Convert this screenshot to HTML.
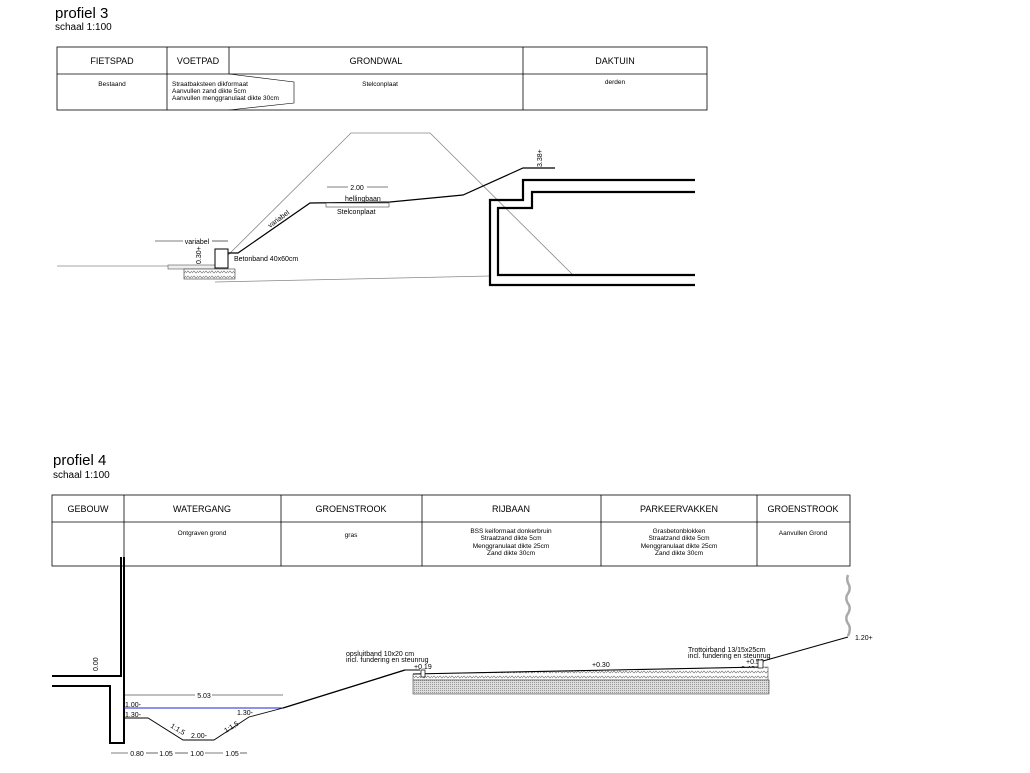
<!DOCTYPE html>
<html><head><meta charset="utf-8"><style>
html,body{margin:0;padding:0;background:#fff;}
svg{display:block;font-family:"Liberation Sans",sans-serif;}
</style></head><body>
<svg width="1030" height="773" viewBox="0 0 1030 773" xmlns="http://www.w3.org/2000/svg">
<defs>
<pattern id="hx" width="6" height="5" patternUnits="userSpaceOnUse"><rect width="6" height="5" fill="#fff"/><path d="M0 3 L2 1 L4 3 L6 1" stroke="#777" stroke-width="0.7" fill="none"/></pattern>
<pattern id="dt" width="2" height="2" patternUnits="userSpaceOnUse"><rect width="2" height="2" fill="#ddd"/><rect width="1" height="1" fill="#999"/></pattern>
</defs>
<text x="55" y="18" font-size="15">profiel 3</text>
<text x="55" y="30" font-size="10">schaal 1:100</text>
<g stroke="#000" fill="none" stroke-width="0.8">
<rect x="57" y="47" width="650" height="63"/>
<line x1="57" y1="74" x2="707" y2="74"/>
<line x1="167" y1="47" x2="167" y2="110"/>
<line x1="229" y1="47" x2="229" y2="74"/>
<line x1="523" y1="47" x2="523" y2="110"/>
<path d="M229 74 L294 82 L294 103 L229 110" stroke-width="0.6"/>
</g>
<g font-size="9" text-anchor="middle">
<text x="112" y="64">FIETSPAD</text><text x="198" y="64">VOETPAD</text>
<text x="376" y="64">GRONDWAL</text><text x="615" y="64">DAKTUIN</text>
</g>
<g font-size="6.5">
<text x="112" y="86" text-anchor="middle">Bestaand</text>
<text x="172" y="86">Straatbaksteen dikformaat</text>
<text x="172" y="93">Aanvullen zand dikte 5cm</text>
<text x="172" y="100">Aanvullen menggranulaat dikte 30cm</text>
<text x="380" y="86" text-anchor="middle">Stelconplaat</text>
<text x="615" y="84" text-anchor="middle">derden</text>
</g>
<g stroke="#888" fill="none" stroke-width="0.8">
<path d="M215 268 L351 133 L430 133 L573 275"/>
<path d="M215 282 L490 276"/>
<path d="M57 266 L185 266"/>
</g>
<rect x="168" y="265" width="47" height="4" fill="#eee" stroke="#555" stroke-width="0.6"/>
<rect x="184" y="269" width="51" height="10" fill="url(#hx)" stroke="#333" stroke-width="0.6"/>
<rect x="215" y="249" width="13" height="19" fill="#fff" stroke="#000" stroke-width="1"/>
<path d="M228 253 L238 253 L310 203 L390 202 L463 195 L523 168 L555 168" stroke="#000" fill="none" stroke-width="1.2"/>
<rect x="326" y="203" width="63" height="4" fill="#fff" stroke="#444" stroke-width="0.6"/>
<g stroke="#000" stroke-width="0.6">
<line x1="327" y1="187" x2="348" y2="187"/><line x1="367" y1="187" x2="388" y2="187"/>
<line x1="155" y1="241" x2="183" y2="241"/><line x1="212" y1="241" x2="228" y2="241"/>
</g>
<g font-size="7">
<text x="357" y="190" text-anchor="middle">2.00</text>
<text x="345" y="201">hellingbaan</text>
<text x="337" y="214">Stelconplaat</text>
<text x="197" y="244" text-anchor="middle">variabel</text>
<text x="234" y="261">Betonband 40x60cm</text>
<text transform="translate(270,228) rotate(-36)">variabel</text>
<text transform="translate(201,264) rotate(-90)">0.30+</text>
<text transform="translate(542,167) rotate(-90)">3.38+</text>
</g>
<g stroke="#000" fill="none" stroke-width="2.2">
<path d="M695 180 L523 180 L523 200 L490 200 L490 285 L695 285"/>
<path d="M695 192 L532 192 L532 208 L498 208 L498 275 L695 275"/>
</g>
<text x="53" y="465" font-size="15">profiel 4</text>
<text x="53" y="478" font-size="10">schaal 1:100</text>
<g stroke="#000" fill="none" stroke-width="0.8">
<rect x="52" y="495" width="798" height="71"/>
<line x1="52" y1="522" x2="850" y2="522"/>
<line x1="124" y1="495" x2="124" y2="566"/>
<line x1="281" y1="495" x2="281" y2="566"/>
<line x1="422" y1="495" x2="422" y2="566"/>
<line x1="601" y1="495" x2="601" y2="566"/>
<line x1="757" y1="495" x2="757" y2="566"/>
</g>
<g font-size="9" text-anchor="middle">
<text x="88" y="512">GEBOUW</text><text x="202" y="512">WATERGANG</text>
<text x="351" y="512">GROENSTROOK</text><text x="511" y="512">RIJBAAN</text>
<text x="679" y="512">PARKEERVAKKEN</text><text x="803" y="512">GROENSTROOK</text>
</g>
<g font-size="6.5" text-anchor="middle">
<text x="202" y="535">Ontgraven grond</text>
<text x="351" y="537">gras</text>
<text x="511" y="533">BSS keiformaat donkerbruin</text>
<text x="511" y="540">Straatzand dikte 5cm</text>
<text x="511" y="548">Menggranulaat dikte 25cm</text>
<text x="511" y="555">Zand dikte 30cm</text>
<text x="679" y="533">Grasbetonblokken</text>
<text x="679" y="540">Straatzand dikte 5cm</text>
<text x="679" y="548">Menggranulaat dikte 25cm</text>
<text x="679" y="555">Zand dikte 30cm</text>
<text x="803" y="535">Aanvullen Grond</text>
</g>
<g stroke="#000" fill="none" stroke-width="2">
<path d="M52 676 L121 676 L121 557"/>
<path d="M52 686 L110 686 L110 743 L124 743 L124 557"/>
</g>
<line x1="124" y1="708" x2="283" y2="708" stroke="#22d" stroke-width="1"/>
<path d="M124 718 L148 718 L183 740 L214 740 L249 717 L283 708 L405 670 L420 670" stroke="#000" fill="none" stroke-width="0.9"/>
<path d="M283 708 L405 670" stroke="#000" stroke-width="1.3" fill="none"/>
<g stroke="#000" stroke-width="0.6">
<line x1="124" y1="695" x2="195" y2="695"/><line x1="212" y1="695" x2="283" y2="695"/>
<line x1="111" y1="753" x2="128" y2="753"/><line x1="146" y1="753" x2="158" y2="753"/>
<line x1="175" y1="753" x2="188" y2="753"/><line x1="205" y1="753" x2="223" y2="753"/><line x1="240" y1="753" x2="247" y2="753"/>
</g>
<g font-size="7">
<text x="204" y="698" text-anchor="middle">5.03</text>
<text x="125" y="707">1.00-</text>
<text x="125" y="717">1.30-</text>
<text x="237" y="715">1.30-</text>
<text x="191" y="738">2.00-</text>
<text transform="translate(170,727) rotate(32)">1:1,5</text>
<text transform="translate(226,733) rotate(-32)">1:1,5</text>
<text x="137" y="756" text-anchor="middle">0.80</text>
<text x="166" y="756" text-anchor="middle">1.05</text>
<text x="197" y="756" text-anchor="middle">1.00</text>
<text x="232" y="756" text-anchor="middle">1.05</text>
<text transform="translate(98,671) rotate(-90)">0.00</text>
<text x="346" y="656">opsluitband 10x20 cm</text>
<text x="346" y="662">incl. fundering en steunrug</text>
<text x="414" y="669">+0.19</text>
<text x="592" y="667">+0.30</text>
<text x="688" y="652">Trottoirband 13/15x25cm</text>
<text x="688" y="658">incl. fundering en steunrug</text>
<text x="746" y="664">+0.50</text>
<text x="737" y="671">+0.40</text>
<text x="855" y="640">1.20+</text>
</g>
<path d="M413 674 L768 667 L768 680 L413 680 Z" fill="url(#hx)" stroke="#444" stroke-width="0.6"/>
<rect x="413" y="680" width="356" height="14" fill="url(#dt)" stroke="#444" stroke-width="0.6"/>
<path d="M413 674 L760 667" stroke="#000" stroke-width="1.1"/>
<rect x="421" y="670" width="4" height="7" fill="#fff" stroke="#000" stroke-width="0.7"/>
<rect x="758" y="660" width="5" height="8" fill="#fff" stroke="#000" stroke-width="0.7"/>
<path d="M763 661 L848 637" stroke="#000" stroke-width="1.1"/>
<path d="M848 575 Q846 580 849 585 Q851 590 847 595 Q845 600 849 605 Q851 610 847 615 Q845 620 849 625 Q851 630 848 636" stroke="#aaa" stroke-width="2.5" fill="none"/>
</svg>
</body></html>
